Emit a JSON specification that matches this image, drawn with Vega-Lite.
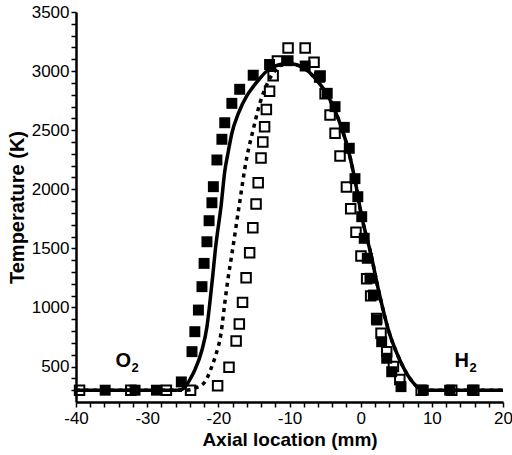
{
  "$schema": "https://vega.github.io/schema/vega-lite/v6.json",
  "width": 427,
  "height": 390,
  "autosize": {"type": "none"},
  "padding": {"left": 76, "top": 12, "right": 9, "bottom": 53},
  "background": "white",
  "config": {
    "view": {"stroke": null, "fill": null},
    "axis": {
      "grid": false,
      "domainColor": "black",
      "domainWidth": 2.5,
      "tickColor": "black",
      "tickWidth": 1.5,
      "tickOpacity": 1,
      "labelOverlap": false,
      "labelFont": "Liberation Sans",
      "labelFontSize": 17,
      "labelColor": "black",
      "titleFont": "Liberation Sans",
      "titleFontSize": 19,
      "titleFontWeight": "bold",
      "titleColor": "black"
    }
  },
  "datasets": {
    "sim": [
      {"x": -40, "solid": 300, "dotted": 300},
      {"x": -26, "solid": 300, "dotted": 300},
      {"x": -25.2, "solid": 305, "dotted": 300},
      {"x": -24.5, "solid": 340, "dotted": 300},
      {"x": -23.9, "solid": 400, "dotted": 303},
      {"x": -23.3, "solid": 471, "dotted": 318},
      {"x": -22.3, "solid": 640, "dotted": 344},
      {"x": -21.6, "solid": 837, "dotted": 400},
      {"x": -21.2, "solid": 1035, "dotted": 456},
      {"x": -20.8, "solid": 1260, "dotted": 520},
      {"x": -20.4, "solid": 1500, "dotted": 590},
      {"x": -19.6, "solid": 1867, "dotted": 790},
      {"x": -19.1, "solid": 2150, "dotted": 1035},
      {"x": -18.6, "solid": 2320, "dotted": 1260},
      {"x": -18.1, "solid": 2474, "dotted": 1450},
      {"x": -17.2, "solid": 2640, "dotted": 1810},
      {"x": -16.0, "solid": 2790, "dotted": 2270},
      {"x": -15.2, "solid": 2860, "dotted": 2480},
      {"x": -14.15, "solid": 2939, "dotted": 2730},
      {"x": -13.1, "solid": 3005, "dotted": 2897},
      {"x": -12.1, "solid": 3040, "dotted": 3000},
      {"x": -11.0, "solid": 3060, "dotted": 3055},
      {"x": -10.2, "solid": 3065, "dotted": 3065},
      {"x": -8.1, "solid": 3030, "dotted": 3030},
      {"x": -6.2, "solid": 2925, "dotted": 2925},
      {"x": -4.3, "solid": 2755, "dotted": 2755},
      {"x": -2.9, "solid": 2558, "dotted": 2558},
      {"x": -1.74, "solid": 2332, "dotted": 2332},
      {"x": -0.8, "solid": 2078, "dotted": 2078},
      {"x": 0.15, "solid": 1768, "dotted": 1768},
      {"x": 1.5, "solid": 1435, "dotted": 1435},
      {"x": 2.5, "solid": 1148, "dotted": 1148},
      {"x": 3.9, "solid": 809, "dotted": 809},
      {"x": 5.5, "solid": 555, "dotted": 555},
      {"x": 6.9, "solid": 400, "dotted": 400},
      {"x": 8.3, "solid": 315, "dotted": 315},
      {"x": 9.5, "solid": 300, "dotted": 300},
      {"x": 20, "solid": 300, "dotted": 300}
    ],
    "filled": [
      {"x": -35.9, "T": 300}, {"x": -31.7, "T": 300}, {"x": -28.7, "T": 300},
      {"x": -25.2, "T": 370}, {"x": -23.7, "T": 626}, {"x": -23.3, "T": 795},
      {"x": -22.8, "T": 978}, {"x": -22.3, "T": 1176}, {"x": -22.0, "T": 1373},
      {"x": -21.6, "T": 1556}, {"x": -21.3, "T": 1734}, {"x": -20.9, "T": 1886},
      {"x": -20.7, "T": 2022}, {"x": -20.2, "T": 2248}, {"x": -19.5, "T": 2423},
      {"x": -19.1, "T": 2563}, {"x": -18.1, "T": 2727}, {"x": -17.0, "T": 2846},
      {"x": -15.1, "T": 2965}, {"x": -12.8, "T": 3056}, {"x": -10.2, "T": 3088},
      {"x": -7.8, "T": 3043}, {"x": -5.8, "T": 2947}, {"x": -4.7, "T": 2812},
      {"x": -3.6, "T": 2699}, {"x": -2.3, "T": 2524}, {"x": -1.6, "T": 2347},
      {"x": -0.8, "T": 2090}, {"x": -0.4, "T": 1937}, {"x": 0.15, "T": 1768},
      {"x": 0.5, "T": 1585}, {"x": 0.93, "T": 1416}, {"x": 1.31, "T": 1247},
      {"x": 1.78, "T": 1105}, {"x": 2.25, "T": 894}, {"x": 2.95, "T": 710},
      {"x": 3.66, "T": 570}, {"x": 4.36, "T": 456}, {"x": 5.67, "T": 330},
      {"x": 8.8, "T": 300}, {"x": 12.5, "T": 300}, {"x": 15.7, "T": 300}
    ],
    "open": [
      {"x": -39.5, "T": 300}, {"x": -32.3, "T": 300}, {"x": -27.3, "T": 300},
      {"x": -23.9, "T": 300}, {"x": -20.1, "T": 338}, {"x": -18.5, "T": 494},
      {"x": -17.5, "T": 716}, {"x": -17.05, "T": 860}, {"x": -16.6, "T": 1043},
      {"x": -16.1, "T": 1252}, {"x": -15.6, "T": 1463}, {"x": -15.15, "T": 1675},
      {"x": -14.7, "T": 1875}, {"x": -14.4, "T": 2056}, {"x": -14.0, "T": 2265},
      {"x": -13.75, "T": 2400}, {"x": -13.5, "T": 2530}, {"x": -13.25, "T": 2675},
      {"x": -12.8, "T": 2830}, {"x": -12.3, "T": 2960}, {"x": -11.7, "T": 3085},
      {"x": -10.2, "T": 3195}, {"x": -7.8, "T": 3195}, {"x": -6.55, "T": 3075},
      {"x": -5.7, "T": 2958}, {"x": -5.0, "T": 2808}, {"x": -4.3, "T": 2628},
      {"x": -3.6, "T": 2474}, {"x": -2.9, "T": 2282}, {"x": -2.0, "T": 2020},
      {"x": -1.4, "T": 1836}, {"x": -0.66, "T": 1636}, {"x": 0.04, "T": 1435},
      {"x": 0.84, "T": 1243}, {"x": 1.4, "T": 1098}, {"x": 2.25, "T": 906},
      {"x": 2.86, "T": 781}, {"x": 3.66, "T": 626}, {"x": 4.6, "T": 500},
      {"x": 5.5, "T": 390}, {"x": 8.5, "T": 300}, {"x": 12.8, "T": 300},
      {"x": 15.9, "T": 300}
    ],
    "species": [
      {"x": -33.35, "T": 499, "txt": "O"},
      {"x": 14.2, "T": 499, "txt": "H"}
    ],
    "subscripts": [
      {"x": -31.7, "T": 456, "txt": "2"},
      {"x": 15.8, "T": 456, "txt": "2"}
    ]
  },
  "layer": [
    {
      "data": {"name": "sim"},
      "mark": {"type": "line", "interpolate": "monotone", "color": "black", "strokeWidth": 3.5, "strokeDash": [4, 4.5], "strokeCap": "butt"},
      "encoding": {
        "x": {
          "field": "x", "type": "quantitative",
          "scale": {"domain": [-40, 20], "nice": false, "zero": false},
          "axis": {
            "title": "Axial location (mm)",
            "values": [-40, -38, -36, -34, -32, -30, -28, -26, -24, -22, -20, -18, -16, -14, -12, -10, -8, -6, -4, -2, 0, 2, 4, 6, 8, 10, 12, 14, 16, 18, 20],
            "tickCount": 100,
            "ticks": true,
            "tickSize": 5,
            "zindex": 2,
            "labelExpr": "datum.value % 10 === 0 ? '' + datum.value : ''",
            "labelOverlap": false,
            "labelPadding": 3,
            "labelFlush": false,
            "titlePadding": 4
          }
        },
        "y": {
          "field": "dotted", "type": "quantitative",
          "scale": {"domain": [200, 3500], "nice": false, "zero": false},
          "axis": {
            "title": "Temperature (K)",
            "titleFontSize": 20,
            "values": [300, 400, 500, 600, 700, 800, 900, 1000, 1100, 1200, 1300, 1400, 1500, 1600, 1700, 1800, 1900, 2000, 2100, 2200, 2300, 2400, 2500, 2600, 2700, 2800, 2900, 3000, 3100, 3200, 3300, 3400, 3500],
            "tickCount": 100,
            "ticks": true,
            "tickSize": 5,
            "zindex": 2,
            "labelExpr": "datum.value % 500 === 0 ? '' + datum.value : ''",
            "labelOverlap": false,
            "labelPadding": 2,
            "titlePadding": 4
          }
        }
      }
    },
    {
      "data": {"name": "sim"},
      "mark": {"type": "line", "interpolate": "monotone", "color": "black", "strokeWidth": 3.5},
      "encoding": {
        "x": {"field": "x", "type": "quantitative"},
        "y": {"field": "solid", "type": "quantitative"}
      }
    },
    {
      "data": {"name": "filled"},
      "mark": {"type": "point", "shape": "square", "filled": true, "color": "black", "size": 120, "opacity": 1},
      "encoding": {
        "x": {"field": "x", "type": "quantitative"},
        "y": {"field": "T", "type": "quantitative"}
      }
    },
    {
      "data": {"name": "open"},
      "mark": {"type": "point", "shape": "square", "filled": false, "stroke": "black", "fill": "white", "fillOpacity": 0, "size": 90, "strokeWidth": 2, "opacity": 1},
      "encoding": {
        "x": {"field": "x", "type": "quantitative"},
        "y": {"field": "T", "type": "quantitative"}
      }
    },
    {
      "data": {"name": "species"},
      "mark": {"type": "text", "font": "Liberation Sans", "fontWeight": "bold", "fontSize": 20, "align": "center", "baseline": "alphabetic", "color": "black"},
      "encoding": {
        "x": {"field": "x", "type": "quantitative"},
        "y": {"field": "T", "type": "quantitative"},
        "text": {"field": "txt"}
      }
    },
    {
      "data": {"name": "subscripts"},
      "mark": {"type": "text", "font": "Liberation Sans", "fontWeight": "bold", "fontSize": 13, "align": "center", "baseline": "alphabetic", "color": "black"},
      "encoding": {
        "x": {"field": "x", "type": "quantitative"},
        "y": {"field": "T", "type": "quantitative"},
        "text": {"field": "txt"}
      }
    }
  ]
}
